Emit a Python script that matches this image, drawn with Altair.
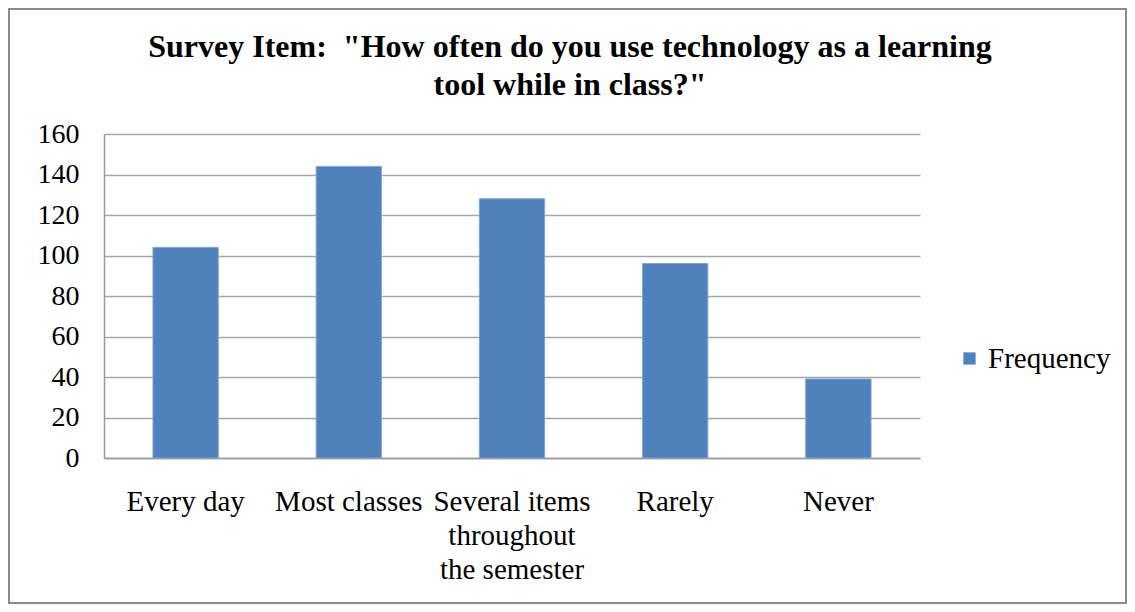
import altair as alt
import pandas as pd

categories = ["Every day", "Most classes", "Several items\nthroughout\nthe semester", "Rarely", "Never"]
frequency = [104, 144, 128, 96, 39]
series_name = "Frequency"
title_lines = ["Survey Item: \u00a0\"How often do you use technology as a learning", "tool while in class?\""]

df = pd.DataFrame({"category": categories, "value": frequency, "series": [series_name] * len(categories)})

FONT = "Liberation Serif"

bars = alt.Chart(df).mark_bar(color="#4f81bd", stroke="#7ea3d1", strokeWidth=1).encode(
    x=alt.X("category:N", sort=None, title=None,
            scale=alt.Scale(paddingInner=0.6, paddingOuter=0.3),
            axis=alt.Axis(labelAngle=0, labelExpr="split(datum.label, '\\n')",
                          labelLineHeight=34, labelPadding=29, ticks=False,
                          domainColor="#9a9a9a", domainWidth=1.5,
                          labelFontSize=29, labelFont=FONT, labelColor="black")),
    y=alt.Y("value:Q", title=None,
            scale=alt.Scale(domain=[0, 160], nice=False),
            axis=alt.Axis(values=list(range(0, 161, 20)), ticks=False, labelPadding=25,
                          grid=True, gridColor="#a6a6a6", gridWidth=1.5,
                          domainColor="#9a9a9a", domainWidth=1.5,
                          labelFontSize=28, labelFont=FONT, labelColor="black")),
    color=alt.Color("series:N", scale=alt.Scale(range=["#4f81bd"]),
                    legend=alt.Legend(title=None, orient="none", legendX=851, legendY=210,
                                      symbolType="square", symbolSize=150, symbolStrokeWidth=0,
                                      labelFontSize=29, labelFont=FONT, labelColor="black",
                                      labelOffset=4)),
)

border = alt.Chart(pd.DataFrame({"b": [0]})).mark_rect(
    fill=None, stroke="#8a8a8a", strokeWidth=2
).encode(x=alt.value(-95), x2=alt.value(1022), y=alt.value(-125), y2=alt.value(469))

chart = alt.layer(border, bars).properties(
    width=816, height=324,
    title=alt.TitleParams(text=title_lines, anchor="middle", dx=58, dy=104, font=FONT, fontSize=32,
                          fontWeight="bold", color="black", lineHeight=38, offset=10),
    autosize=alt.AutoSizeParams(type="none"),
    padding={"left": 96, "top": 126, "right": 207, "bottom": 146},
).configure_view(stroke=None)

chart.save("out.html", embed_options={"renderer": "svg", "actions": False})
